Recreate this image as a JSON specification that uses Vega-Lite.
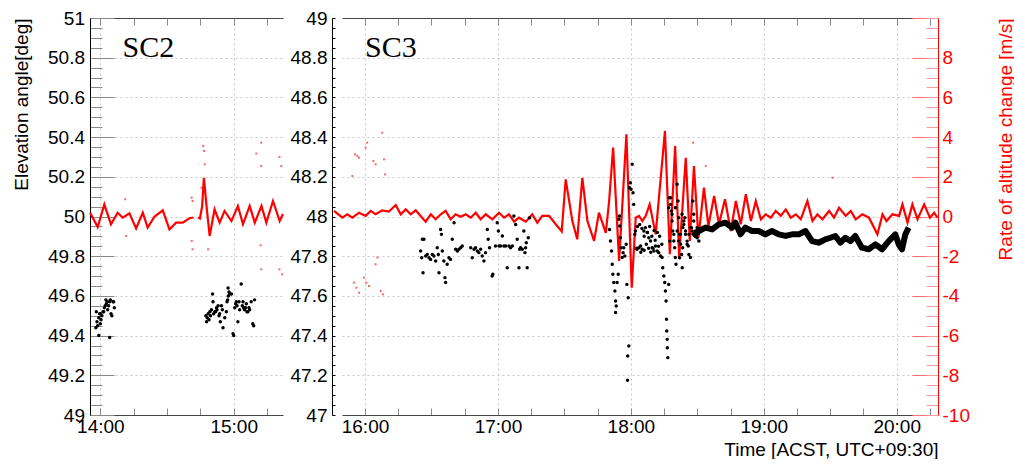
{
  "$schema": "https://vega.github.io/schema/vega-lite/v6.json",
  "background": "white",
  "padding": {"left": 12, "top": 9, "right": 0, "bottom": 0},
  "config": {
    "view": {"stroke": null},
    "font": "Liberation Sans",
    "axis": {"labelFont": "Liberation Sans", "titleFont": "Liberation Sans", "labelFontSize": 19, "titleFontSize": 19, "titleFontWeight": "normal", "labelColor": "#000", "titleColor": "#000", "labelOverlap": false, "labelFlush": false, "grid": false, "tickOpacity": 1, "tickWidth": 1, "zindex": 1}
  },
  "datasets": {
    "sc2_elev": [
      {"t":838.0,"e":49.44},{"t":838.2,"e":49.52},{"t":838.5,"e":49.47},{"t":838.8,"e":49.45},{"t":839.3,"e":49.49},{"t":839.7,"e":49.51},{"t":840.0,"e":49.46},{"t":840.3,"e":49.48},{"t":840.7,"e":49.50},{"t":841.2,"e":49.52},{"t":841.5,"e":49.52},{"t":841.8,"e":49.54},{"t":842.2,"e":49.55},{"t":842.5,"e":49.58},{"t":842.7,"e":49.56},{"t":843.0,"e":49.57},{"t":843.3,"e":49.53},{"t":843.7,"e":49.55},{"t":844.2,"e":49.57},{"t":844.5,"e":49.58},{"t":844.8,"e":49.51},{"t":845.2,"e":49.50},{"t":845.7,"e":49.57},{"t":846.0,"e":49.57},{"t":846.3,"e":49.54},{"t":839.3,"e":49.40},{"t":844.2,"e":49.39},{"t":840.0,"e":49.51},
      {"t":887.5,"e":49.50},{"t":887.8,"e":49.47},{"t":888.1,"e":49.49},{"t":888.5,"e":49.51},{"t":888.9,"e":49.48},{"t":889.3,"e":49.52},{"t":889.6,"e":49.50},{"t":890.0,"e":49.53},{"t":890.5,"e":49.61},{"t":890.7,"e":49.57},{"t":891.0,"e":49.51},{"t":891.5,"e":49.52},{"t":891.9,"e":49.52},{"t":892.3,"e":49.54},{"t":892.5,"e":49.53},{"t":893.0,"e":49.55},{"t":893.4,"e":49.50},{"t":893.7,"e":49.51},{"t":894.0,"e":49.47},{"t":894.5,"e":49.55},{"t":894.9,"e":49.53},{"t":895.2,"e":49.44},{"t":896.0,"e":49.49},{"t":896.7,"e":49.52},{"t":897.0,"e":49.57},{"t":897.3,"e":49.58},{"t":897.6,"e":49.60},{"t":897.9,"e":49.62},{"t":898.2,"e":49.61},{"t":897.5,"e":49.64},{"t":899.0,"e":49.61},{"t":899.7,"e":49.41},{"t":900.0,"e":49.40},{"t":900.5,"e":49.54},{"t":900.9,"e":49.56},{"t":901.2,"e":49.57},{"t":901.5,"e":49.55},{"t":901.9,"e":49.47},{"t":902.4,"e":49.57},{"t":902.7,"e":49.53},{"t":903.4,"e":49.66},{"t":903.9,"e":49.55},{"t":904.2,"e":49.57},{"t":904.5,"e":49.54},{"t":904.9,"e":49.53},{"t":905.4,"e":49.54},{"t":905.7,"e":49.56},{"t":906.0,"e":49.52},{"t":906.4,"e":49.52},{"t":906.9,"e":49.54},{"t":907.2,"e":49.53},{"t":907.9,"e":49.57},{"t":908.6,"e":49.46},{"t":909.0,"e":49.45},{"t":909.4,"e":49.58}
    ],
    "sc2_rate": [
      {"t":835.4,"r":0.19,"s":1},{"t":838.8,"r":-0.53,"s":1},{"t":841.8,"r":0.61,"s":1},{"t":844.8,"r":-0.39,"s":1},{"t":847.8,"r":0.19,"s":1},{"t":850.1,"r":-0.06,"s":1},{"t":853.1,"r":0.16,"s":1},{"t":856.1,"r":-0.6,"s":1},{"t":859.1,"r":0.19,"s":1},{"t":861.3,"r":-0.56,"s":1},{"t":864.4,"r":0.0,"s":1},{"t":868.1,"r":0.31,"s":1},{"t":871.1,"r":-0.65,"s":1},{"t":874.1,"r":-0.31,"s":1},{"t":877.1,"r":-0.31,"s":1},{"t":880.1,"r":-0.09,"s":1},{"t":882.0,"r":-0.05,"s":1},
      {"t":884.0,"r":-0.05,"s":2},{"t":884.8,"r":-0.1,"s":2},{"t":885.8,"r":0.5,"s":2},{"t":886.6,"r":1.95,"s":2},{"t":887.9,"r":0.4,"s":2},{"t":889.2,"r":-0.98,"s":2},{"t":891.4,"r":0.36,"s":2},{"t":893.7,"r":-0.31,"s":2},{"t":895.9,"r":0.28,"s":2},{"t":899.0,"r":-0.23,"s":2},{"t":901.9,"r":0.53,"s":2},{"t":904.2,"r":-0.39,"s":2},{"t":907.2,"r":0.53,"s":2},{"t":909.5,"r":-0.31,"s":2},{"t":912.5,"r":0.53,"s":2},{"t":914.7,"r":-0.31,"s":2},{"t":917.7,"r":0.78,"s":2},{"t":920.7,"r":-0.23,"s":2},{"t":922.2,"r":0.13,"s":2}
    ],
    "sc2_rpts": [
      {"t":886.3,"r":3.55},{"t":886.7,"r":3.3},{"t":887.0,"r":2.63},{"t":885.5,"r":1.45},{"t":888.5,"r":-1.65},{"t":881.1,"r":0.95},{"t":881.5,"r":0.78},{"t":881.1,"r":-1.23},{"t":881.5,"r":-1.65},{"t":851.2,"r":0.87},{"t":851.6,"r":-0.98},{"t":912.4,"r":3.72},{"t":910.2,"r":3.17},{"t":912.4,"r":2.54},{"t":920.6,"r":3.0},{"t":921.4,"r":2.54},{"t":912.1,"r":-1.45},{"t":912.4,"r":-2.66},{"t":920.6,"r":-2.66},{"t":921.8,"r":-2.91}
    ],
    "sc3_elev": [
      {"t":985.1,"e":47.826},{"t":985.6,"e":47.792},{"t":985.9,"e":47.885},{"t":986.6,"e":47.885},{"t":986.2,"e":47.717},{"t":987.4,"e":47.801},{"t":988.1,"e":47.809},{"t":988.9,"e":47.792},{"t":989.6,"e":47.784},{"t":990.4,"e":47.809},{"t":991.1,"e":47.801},{"t":991.9,"e":47.776},{"t":992.6,"e":47.843},{"t":993.1,"e":47.809},{"t":993.4,"e":47.717},{"t":994.1,"e":47.935},{"t":994.5,"e":47.910},{"t":994.9,"e":47.826},{"t":995.6,"e":47.776},{"t":996.1,"e":47.692},{"t":996.4,"e":47.667},{"t":997.1,"e":47.759},{"t":997.9,"e":47.792},{"t":998.6,"e":47.784},{"t":999.4,"e":47.885},{"t":1000.2,"e":47.969},{"t":1000.9,"e":47.835},{"t":1001.7,"e":47.826},{"t":1002.4,"e":47.835},{"t":1003.2,"e":47.843},{"t":1003.9,"e":47.851},{"t":1007.7,"e":47.843},{"t":1008.4,"e":47.792},{"t":1009.2,"e":47.835},{"t":1009.9,"e":47.843},{"t":1010.7,"e":47.826},{"t":1011.4,"e":47.818},{"t":1012.2,"e":47.835},{"t":1012.9,"e":47.801},{"t":1013.7,"e":47.776},{"t":1014.4,"e":47.818},{"t":1015.2,"e":47.935},{"t":1015.6,"e":47.885},{"t":1016.2,"e":47.843},{"t":1017.4,"e":47.700},{"t":1017.7,"e":47.709},{"t":1018.9,"e":47.851},{"t":1019.7,"e":47.969},{"t":1020.2,"e":47.927},{"t":1020.5,"e":47.851},{"t":1021.2,"e":47.851},{"t":1022.0,"e":47.902},{"t":1022.7,"e":47.851},{"t":1023.5,"e":47.851},{"t":1024.2,"e":47.742},{"t":1025.0,"e":47.851},{"t":1025.7,"e":47.843},{"t":1026.5,"e":47.851},{"t":1027.2,"e":48.002},{"t":1028.0,"e":47.960},{"t":1028.7,"e":47.885},{"t":1029.5,"e":47.742},{"t":1029.8,"e":47.835},{"t":1030.2,"e":47.843},{"t":1031.0,"e":47.835},{"t":1031.7,"e":47.927},{"t":1032.2,"e":47.818},{"t":1032.5,"e":47.843},{"t":1032.8,"e":47.868},{"t":1033.2,"e":47.742},{"t":1033.7,"e":47.893},{"t":1034.3,"e":47.994},
      {"t":1070.4,"e":47.935},{"t":1070.8,"e":47.877},{"t":1071.3,"e":47.826},{"t":1071.6,"e":47.759},{"t":1071.9,"e":47.709},{"t":1072.3,"e":47.667},{"t":1072.8,"e":47.625},{"t":1073.1,"e":47.574},{"t":1073.4,"e":47.549},{"t":1073.1,"e":47.516},{"t":1073.8,"e":47.667},{"t":1074.3,"e":47.709},{"t":1074.6,"e":47.986},{"t":1074.9,"e":48.003},{"t":1075.0,"e":47.952},{"t":1075.3,"e":47.893},{"t":1075.6,"e":47.843},{"t":1076.1,"e":47.793},{"t":1076.5,"e":47.818},{"t":1076.8,"e":47.843},{"t":1077.3,"e":47.801},{"t":1077.9,"e":47.860},{"t":1078.2,"e":47.658},{"t":1078.8,"e":47.591},{"t":1079.1,"e":47.348},{"t":1078.6,"e":47.297},{"t":1078.5,"e":47.175},{"t":1079.4,"e":48.145},{"t":1079.8,"e":48.170},{"t":1080.1,"e":48.137},{"t":1080.6,"e":48.263},{"t":1081.0,"e":48.120},{"t":1081.3,"e":48.061},{"t":1081.8,"e":47.910},{"t":1082.1,"e":47.927},{"t":1082.8,"e":47.835},{"t":1083.6,"e":47.843},{"t":1084.4,"e":47.851},{"t":1085.1,"e":47.835},{"t":1085.9,"e":47.927},{"t":1086.6,"e":47.944},{"t":1087.4,"e":47.919},{"t":1088.1,"e":47.893},{"t":1088.9,"e":47.877},{"t":1089.6,"e":47.843},{"t":1090.4,"e":47.826},{"t":1091.1,"e":47.851},{"t":1091.9,"e":47.826},{"t":1092.6,"e":47.818},{"t":1093.4,"e":47.801},{"t":1094.1,"e":47.793},{"t":1094.4,"e":47.742},{"t":1094.9,"e":47.700},{"t":1095.3,"e":47.667},{"t":1095.6,"e":47.625},{"t":1095.9,"e":47.574},{"t":1096.1,"e":47.482},{"t":1096.2,"e":47.423},{"t":1096.4,"e":47.381},{"t":1096.5,"e":47.339},{"t":1096.7,"e":47.289},{"t":1097.1,"e":47.658},{"t":1097.4,"e":48.095},{"t":1097.9,"e":48.061},{"t":1098.3,"e":48.028},{"t":1098.6,"e":47.977},{"t":1098.9,"e":47.927},{"t":1099.4,"e":47.877},{"t":1099.8,"e":47.843},{"t":1100.1,"e":47.793},{"t":1100.4,"e":47.759},{"t":1100.9,"e":48.162},{"t":1101.3,"e":48.078},{"t":1101.6,"e":47.994},{"t":1102.0,"e":47.910},{"t":1102.4,"e":47.860},{"t":1102.9,"e":47.809},{"t":1103.2,"e":47.742},{"t":1103.5,"e":47.944},{"t":1103.9,"e":47.977},{"t":1104.4,"e":47.994},{"t":1104.7,"e":47.910},{"t":1105.4,"e":47.860},{"t":1106.2,"e":47.809},{"t":1106.9,"e":47.793},{"t":1107.4,"e":47.944},{"t":1108.0,"e":48.078},{"t":1108.4,"e":48.011},{"t":1109.2,"e":47.927},{"t":1109.9,"e":47.893},{"t":1110.7,"e":47.877},
      {"t":1097.1,"e":48.044},{"t":1097.9,"e":48.095},{"t":1098.6,"e":48.011},{"t":1099.4,"e":47.910},{"t":1100.1,"e":48.044},{"t":1100.9,"e":47.927},{"t":1101.6,"e":47.876},{"t":1102.4,"e":47.910},{"t":1103.1,"e":48.011},{"t":1103.9,"e":47.960},{"t":1104.7,"e":47.927},{"t":1105.4,"e":47.876},{"t":1106.2,"e":47.910},{"t":1106.9,"e":47.944},{"t":1107.7,"e":47.927},{"t":1108.4,"e":47.977},{"t":1109.2,"e":47.910},{"t":1109.9,"e":47.944},{"t":1103.4,"e":47.843},{"t":1105.9,"e":47.851},{"t":1102.0,"e":47.792},{"t":1097.6,"e":47.876},
      {"t":1083.0,"e":47.95},{"t":1084.0,"e":47.96},{"t":1085.0,"e":47.94},{"t":1086.0,"e":47.90},{"t":1087.0,"e":47.86},{"t":1088.0,"e":47.84},{"t":1089.0,"e":47.82},{"t":1090.0,"e":47.84},{"t":1091.0,"e":47.88},{"t":1092.0,"e":47.92},{"t":1093.0,"e":47.90},{"t":1094.0,"e":47.86},{"t":1084.5,"e":47.82},{"t":1086.0,"e":47.83},{"t":1082.5,"e":47.84},{"t":1088.5,"e":47.95},{"t":1090.5,"e":47.93},{"t":1092.5,"e":47.85},{"t":1087.5,"e":47.92},{"t":1089.5,"e":47.90}
    ],
    "sc3_band": [
      {"t":1108.0,"e":47.90},{"t":1110.7,"e":47.927},{"t":1113.7,"e":47.944},{"t":1116.7,"e":47.935},{"t":1119.7,"e":47.960},{"t":1122.7,"e":47.969},{"t":1125.7,"e":47.944},{"t":1127.2,"e":47.969},{"t":1129.5,"e":47.910},{"t":1131.7,"e":47.944},{"t":1134.7,"e":47.927},{"t":1137.7,"e":47.927},{"t":1140.7,"e":47.910},{"t":1143.7,"e":47.927},{"t":1146.8,"e":47.910},{"t":1149.8,"e":47.902},{"t":1152.8,"e":47.910},{"t":1155.8,"e":47.910},{"t":1158.8,"e":47.927},{"t":1161.8,"e":47.876},{"t":1164.8,"e":47.868},{"t":1167.8,"e":47.885},{"t":1170.1,"e":47.893},{"t":1172.3,"e":47.902},{"t":1174.6,"e":47.868},{"t":1176.8,"e":47.893},{"t":1179.1,"e":47.876},{"t":1181.3,"e":47.902},{"t":1184.3,"e":47.843},{"t":1187.4,"e":47.835},{"t":1190.4,"e":47.860},{"t":1193.4,"e":47.835},{"t":1196.4,"e":47.876},{"t":1199.4,"e":47.910},{"t":1200.9,"e":47.860},{"t":1202.4,"e":47.835},{"t":1203.9,"e":47.910},{"t":1205.4,"e":47.944}
    ],
    "sc3_rate": [
      {"t":946.0,"r":0.28},{"t":949.8,"r":-0.06},{"t":952.0,"r":0.11},{"t":954.3,"r":-0.06},{"t":957.3,"r":0.19},{"t":960.3,"r":0.03},{"t":962.6,"r":0.28},{"t":964.8,"r":0.11},{"t":967.8,"r":0.31},{"t":970.8,"r":0.25},{"t":973.9,"r":0.58},{"t":976.1,"r":0.11},{"t":978.4,"r":0.36},{"t":980.6,"r":0.11},{"t":982.9,"r":0.31},{"t":985.1,"r":0.03},{"t":987.4,"r":-0.26},{"t":989.7,"r":0.11},{"t":991.9,"r":-0.14},{"t":994.2,"r":0.11},{"t":996.4,"r":0.28},{"t":998.7,"r":-0.14},{"t":1000.9,"r":0.11},{"t":1003.2,"r":-0.01},{"t":1005.5,"r":0.11},{"t":1007.7,"r":-0.06},{"t":1010.0,"r":0.19},{"t":1012.2,"r":-0.14},{"t":1014.5,"r":0.11},{"t":1017.5,"r":-0.14},{"t":1020.5,"r":0.19},{"t":1022.8,"r":-0.06},{"t":1025.0,"r":0.11},{"t":1027.3,"r":-0.26},{"t":1029.5,"r":-0.06},{"t":1032.6,"r":-0.26},{"t":1035.5,"r":0.11},{"t":1037.8,"r":-0.31},{"t":1040.0,"r":0.03},{"t":1043.1,"r":0.03},{"t":1046.1,"r":-0.39},{"t":1048.8,"r":-0.75},
      {"t":1050.6,"r":1.87},{"t":1053.6,"r":-0.23},{"t":1055.8,"r":-1.15},{"t":1058.1,"r":1.95},{"t":1060.4,"r":-0.23},{"t":1063.4,"r":-1.23},{"t":1065.6,"r":0.19},{"t":1068.7,"r":-0.82},{"t":1070.2,"r":0.78},{"t":1072.0,"r":3.47},{"t":1074.7,"r":-2.24},{"t":1078.0,"r":4.14},{"t":1080.4,"r":-3.59},{"t":1082.2,"r":-0.06},{"t":1083.7,"r":0.03},{"t":1085.2,"r":-0.23},{"t":1086.7,"r":0.03},{"t":1088.5,"r":0.61},{"t":1091.2,"r":-0.90},{"t":1095.4,"r":4.31},{"t":1097.6,"r":-1.90},{"t":1100.0,"r":3.55},{"t":1101.8,"r":-2.07},{"t":1104.8,"r":2.96},{"t":1106.6,"r":-1.23},{"t":1108.5,"r":2.54},{"t":1110.5,"r":-1.07},{"t":1113.0,"r":1.45},{"t":1115.0,"r":-0.48},{"t":1117.6,"r":1.03},{"t":1119.8,"r":-0.39},{"t":1122.5,"r":0.87},{"t":1125.1,"r":-0.73},{"t":1127.4,"r":0.78},
      {"t":1129.6,"r":-0.39},{"t":1131.9,"r":1.12},{"t":1134.2,"r":-0.23},{"t":1136.4,"r":0.78},{"t":1138.7,"r":-0.14},{"t":1140.9,"r":0.11},{"t":1143.2,"r":-0.06},{"t":1145.4,"r":0.28},{"t":1147.7,"r":0.03},{"t":1149.9,"r":0.36},{"t":1152.2,"r":-0.06},{"t":1154.5,"r":0.11},{"t":1156.7,"r":-0.14},{"t":1159.7,"r":0.78},{"t":1162.0,"r":-0.23},{"t":1164.2,"r":0.11},{"t":1166.5,"r":-0.14},{"t":1169.5,"r":0.28},{"t":1171.7,"r":-0.06},{"t":1174.0,"r":0.44},{"t":1177.0,"r":0.03},{"t":1179.3,"r":0.28},{"t":1181.5,"r":-0.14},{"t":1184.5,"r":0.11},{"t":1187.5,"r":-0.06},{"t":1191.3,"r":-0.90},{"t":1193.6,"r":0.11},{"t":1195.4,"r":-0.23},{"t":1198.1,"r":0.11},{"t":1201.1,"r":0.03},{"t":1202.6,"r":0.61},{"t":1204.9,"r":-0.31},{"t":1207.1,"r":0.61},{"t":1209.4,"r":-0.14},{"t":1212.4,"r":0.61},{"t":1215.0,"r":-0.06},{"t":1216.9,"r":0.19},{"t":1218.4,"r":-0.06}
    ],
    "sc3_rpts": [
      {"t":955.5,"r":3.13},{"t":956.5,"r":3.05},{"t":957.3,"r":2.96},{"t":960.3,"r":3.47},{"t":961.0,"r":3.72},{"t":963.8,"r":2.80},{"t":964.8,"r":2.63},{"t":967.8,"r":4.22},{"t":968.6,"r":2.88},{"t":969.0,"r":2.12},{"t":955.0,"r":-3.33},{"t":956.1,"r":-3.59},{"t":957.3,"r":-3.84},{"t":959.5,"r":-3.08},{"t":960.6,"r":-3.33},{"t":961.8,"r":-3.50},{"t":964.8,"r":-2.41},{"t":965.6,"r":-2.07},{"t":967.1,"r":-3.75},{"t":968.1,"r":-3.92},{"t":954.3,"r":2.04},{"t":1108.1,"r":3.72},{"t":1113.8,"r":2.54},{"t":1171.0,"r":1.95}
    ]
  },
  "hconcat": [
    {
      "width": 193,
      "height": 397,
      "resolve": {"scale": {"y": "independent"}, "axis": {"x": "independent", "y": "independent"}},
      "layer": [
        {
          "data": {"name": "sc2_elev"},
          "mark": {"type": "point", "opacity": 0},
          "encoding": {
            "x": {"field": "t", "type": "quantitative", "scale": {"domain": [835.35, 922.2], "nice": false, "zero": false},
              "axis": {"orient": "bottom", "values": [840, 900], "grid": true, "gridColor": "#c8c8c8", "gridDash": [2, 3], "ticks": false, "labels": false, "domain": false, "title": null, "zindex": 0}},
            "y": {"field": "e", "type": "quantitative", "scale": {"domain": [49, 51], "nice": false, "zero": false},
              "axis": {"orient": "left", "values": [49.2, 49.4, 49.6, 49.8, 50, 50.2, 50.4, 50.6, 50.8], "grid": true, "gridColor": "#c8c8c8", "gridDash": [2, 3], "ticks": false, "labels": false, "domain": false, "title": null, "zindex": 0}}
          }
        },
        {
          "data": {"name": "sc2_elev"},
          "mark": {"type": "point", "opacity": 0},
          "encoding": {
            "x": {"field": "t", "type": "quantitative", "scale": {"domain": [835.35, 922.2], "nice": false, "zero": false},
              "axis": {"orient": "top", "ticks": false, "labels": false, "domain": true, "domainColor": "#444", "title": null}},
            "y": {"field": "e", "type": "quantitative", "scale": {"domain": [49, 51], "nice": false, "zero": false},
              "axis": {"orient": "left", "offset": -24, "ticks": true, "tickSize": 24, "tickColor": "#888", "values": [49, 49.2, 49.4, 49.6, 49.8, 50, 50.2, 50.4, 50.6, 50.8, 51], "labels": false, "domain": false, "title": null}}
          }
        },
        {
          "data": {"name": "sc2_elev"},
          "mark": {"type": "point", "opacity": 0},
          "encoding": {
            "x": {"field": "t", "type": "quantitative", "scale": {"domain": [835.35, 922.2], "nice": false, "zero": false},
              "axis": {"orient": "top", "offset": -7, "ticks": true, "tickSize": 7, "tickColor": "#888", "values": [840, 855, 870, 885, 900, 915], "labels": false, "domain": false, "title": null}},
            "y": {"field": "e", "type": "quantitative", "scale": {"domain": [49, 51], "nice": false, "zero": false},
              "axis": {"orient": "left", "offset": -12, "ticks": true, "tickSize": 12, "tickColor": "#888", "values": [49, 49.05, 49.1, 49.15, 49.2, 49.25, 49.3, 49.35, 49.4, 49.45, 49.5, 49.55, 49.6, 49.65, 49.7, 49.75, 49.8, 49.85, 49.9, 49.95, 50, 50.05, 50.1, 50.15, 50.2, 50.25, 50.3, 50.35, 50.4, 50.45, 50.5, 50.55, 50.6, 50.65, 50.7, 50.75, 50.8, 50.85, 50.9, 50.95, 51], "labels": false, "domain": false, "title": null}}
          }
        },
        {
          "data": {"name": "sc2_elev"},
          "mark": {"type": "point", "opacity": 0},
          "encoding": {
            "x": {"field": "t", "type": "quantitative", "scale": {"domain": [835.35, 922.2], "nice": false, "zero": false},
              "axis": {"orient": "bottom", "offset": -7, "ticks": true, "tickSize": 7, "tickColor": "#888", "values": [840, 855, 870, 885, 900, 915], "labels": false, "domain": false, "title": null}},
            "y": {"field": "e", "type": "quantitative", "scale": {"domain": [49, 51], "nice": false, "zero": false}, "axis": null}
          }
        },
        {
          "data": {"name": "sc2_rate"},
          "mark": {"type": "line", "color": "#ff0000", "strokeWidth": 2.2},
          "encoding": {
            "x": {"field": "t", "type": "quantitative", "scale": {"domain": [835.35, 922.2], "nice": false, "zero": false}, "axis": null},
            "y": {"field": "r", "type": "quantitative", "scale": {"domain": [-10, 10], "nice": false, "zero": false}, "axis": null},
            "detail": {"field": "s", "type": "nominal"}
          }
        },
        {
          "data": {"name": "sc2_rpts"},
          "mark": {"type": "square", "size": 4, "color": "#ff0000", "opacity": 0.6},
          "encoding": {
            "x": {"field": "t", "type": "quantitative", "scale": {"domain": [835.35, 922.2], "nice": false, "zero": false}, "axis": null},
            "y": {"field": "r", "type": "quantitative", "scale": {"domain": [-10, 10], "nice": false, "zero": false}, "axis": null}
          }
        },
        {
          "data": {"name": "sc2_elev"},
          "mark": {"type": "circle", "size": 12, "color": "#000", "opacity": 1},
          "encoding": {
            "x": {"field": "t", "type": "quantitative", "scale": {"domain": [835.35, 922.2], "nice": false, "zero": false},
              "axis": {"orient": "bottom", "values": [840, 900], "ticks": false, "labelPadding": 2, "labelExpr": "floor(datum.value / 60) + ':00'", "domainColor": "#444", "title": null}},
            "y": {"field": "e", "type": "quantitative", "scale": {"domain": [49, 51], "nice": false, "zero": false},
              "axis": {"orient": "left", "values": [49, 49.2, 49.4, 49.6, 49.8, 50, 50.2, 50.4, 50.6, 50.8, 51], "format": "~g", "ticks": false, "labelPadding": 5.5, "domainColor": "#000", "title": "Elevation angle[deg]", "titleAnchor": "end", "titlePadding": 16}}
          }
        },
        {
          "data": {"values": [{"name": "SC2", "t": 850.0, "e": 50.806}]},
          "mark": {"type": "text", "font": "Liberation Serif", "fontSize": 30, "align": "left", "baseline": "alphabetic", "color": "#000"},
          "encoding": {
            "x": {"field": "t", "type": "quantitative", "scale": {"domain": [835.35, 922.2], "nice": false, "zero": false}, "axis": null},
            "y": {"field": "e", "type": "quantitative", "scale": {"domain": [49, 51], "nice": false, "zero": false}, "axis": null},
            "text": {"field": "name"}
          }
        }
      ]
    },
    {
      "width": 596,
      "height": 397,
      "resolve": {"scale": {"y": "independent"}, "axis": {"x": "independent", "y": "independent"}},
      "layer": [
        {
          "data": {"name": "sc3_elev"},
          "mark": {"type": "point", "opacity": 0},
          "encoding": {
            "x": {"field": "t", "type": "quantitative", "scale": {"domain": [949.62, 1218.65], "nice": false, "zero": false},
              "axis": {"orient": "bottom", "values": [960, 1020, 1080, 1140, 1200], "grid": true, "gridColor": "#c8c8c8", "gridDash": [2, 3], "ticks": false, "labels": false, "domain": false, "title": null, "zindex": 0}},
            "y": {"field": "e", "type": "quantitative", "scale": {"domain": [47, 49], "nice": false, "zero": false},
              "axis": {"orient": "left", "values": [47.2, 47.4, 47.6, 47.8, 48, 48.2, 48.4, 48.6, 48.8], "grid": true, "gridColor": "#c8c8c8", "gridDash": [2, 3], "ticks": false, "labels": false, "domain": false, "title": null, "zindex": 0}}
          }
        },
        {
          "data": {"name": "sc3_elev"},
          "mark": {"type": "point", "opacity": 0},
          "encoding": {
            "x": {"field": "t", "type": "quantitative", "scale": {"domain": [949.62, 1218.65], "nice": false, "zero": false},
              "axis": {"orient": "top", "ticks": false, "labels": false, "domain": true, "domainColor": "#444", "title": null}},
            "y": {"field": "e", "type": "quantitative", "scale": {"domain": [47, 49], "nice": false, "zero": false},
              "axis": {"orient": "left", "offset": 7, "ticks": true, "tickSize": 3, "tickColor": "#000", "values": [47, 47.05, 47.1, 47.15, 47.2, 47.25, 47.3, 47.35, 47.4, 47.45, 47.5, 47.55, 47.6, 47.65, 47.7, 47.75, 47.8, 47.85, 47.9, 47.95, 48, 48.05, 48.1, 48.15, 48.2, 48.25, 48.3, 48.35, 48.4, 48.45, 48.5, 48.55, 48.6, 48.65, 48.7, 48.75, 48.8, 48.85, 48.9, 48.95, 49], "labels": false, "domain": false, "title": null}}
          }
        },
        {
          "data": {"name": "sc3_elev"},
          "mark": {"type": "point", "opacity": 0},
          "encoding": {
            "x": {"field": "t", "type": "quantitative", "scale": {"domain": [949.62, 1218.65], "nice": false, "zero": false},
              "axis": {"orient": "top", "offset": -7, "ticks": true, "tickSize": 7, "tickColor": "#888", "values": [960, 975, 990, 1005, 1020, 1035, 1050, 1065, 1080, 1095, 1110, 1125, 1140, 1155, 1170, 1185, 1200, 1215], "labels": false, "domain": false, "title": null}},
            "y": {"field": "e", "type": "quantitative", "scale": {"domain": [47, 49], "nice": false, "zero": false}, "axis": null}
          }
        },
        {
          "data": {"name": "sc3_elev"},
          "mark": {"type": "point", "opacity": 0},
          "encoding": {
            "x": {"field": "t", "type": "quantitative", "scale": {"domain": [949.62, 1218.65], "nice": false, "zero": false},
              "axis": {"orient": "bottom", "offset": -7, "ticks": true, "tickSize": 7, "tickColor": "#888", "values": [960, 975, 990, 1005, 1020, 1035, 1050, 1065, 1080, 1095, 1110, 1125, 1140, 1155, 1170, 1185, 1200, 1215], "labels": false, "domain": false, "title": null}},
            "y": {"field": "e", "type": "quantitative", "scale": {"domain": [47, 49], "nice": false, "zero": false}, "axis": null}
          }
        },
        {
          "data": {"name": "sc3_rate"},
          "mark": {"type": "point", "opacity": 0},
          "encoding": {
            "x": {"field": "t", "type": "quantitative", "scale": {"domain": [949.62, 1218.65], "nice": false, "zero": false}, "axis": null},
            "y": {"field": "r", "type": "quantitative", "scale": {"domain": [-10, 10], "nice": false, "zero": false},
              "axis": {"orient": "right", "offset": -26, "ticks": true, "tickSize": 26, "tickColor": "#ff6b6b", "values": [-10, -8, -6, -4, -2, 0, 2, 4, 6, 8, 10], "labels": false, "domain": false, "title": null}}
          }
        },
        {
          "data": {"name": "sc3_rate"},
          "mark": {"type": "point", "opacity": 0},
          "encoding": {
            "x": {"field": "t", "type": "quantitative", "scale": {"domain": [949.62, 1218.65], "nice": false, "zero": false}, "axis": null},
            "y": {"field": "r", "type": "quantitative", "scale": {"domain": [-10, 10], "nice": false, "zero": false},
              "axis": {"orient": "right", "offset": -12, "ticks": true, "tickSize": 12, "tickColor": "#ff9b9b", "values": [-10, -9.5, -9, -8.5, -8, -7.5, -7, -6.5, -6, -5.5, -5, -4.5, -4, -3.5, -3, -2.5, -2, -1.5, -1, -0.5, 0, 0.5, 1, 1.5, 2, 2.5, 3, 3.5, 4, 4.5, 5, 5.5, 6, 6.5, 7, 7.5, 8, 8.5, 9, 9.5, 10], "labels": false, "domain": false, "title": null}}
          }
        },
        {
          "data": {"name": "sc3_rate"},
          "mark": {"type": "line", "color": "#ff0000", "strokeWidth": 2.2},
          "encoding": {
            "x": {"field": "t", "type": "quantitative", "scale": {"domain": [949.62, 1218.65], "nice": false, "zero": false}, "axis": null},
            "y": {"field": "r", "type": "quantitative", "scale": {"domain": [-10, 10], "nice": false, "zero": false},
              "axis": {"orient": "right", "values": [-10, -8, -6, -4, -2, 0, 2, 4, 6, 8], "ticks": false, "domainColor": "#ff0000", "labelColor": "#ff0000", "labelPadding": 4, "labelExpr": "'' + datum.value", "title": "Rate of altitude change [m/s]", "titleColor": "#ff0000", "titleAngle": 270, "titleAnchor": "end", "titlePadding": 46}}
          }
        },
        {
          "data": {"name": "sc3_rpts"},
          "mark": {"type": "square", "size": 4, "color": "#ff0000", "opacity": 0.6},
          "encoding": {
            "x": {"field": "t", "type": "quantitative", "scale": {"domain": [949.62, 1218.65], "nice": false, "zero": false}, "axis": null},
            "y": {"field": "r", "type": "quantitative", "scale": {"domain": [-10, 10], "nice": false, "zero": false}, "axis": null}
          }
        },
        {
          "data": {"name": "sc3_band"},
          "mark": {"type": "line", "color": "#000", "strokeWidth": 6, "strokeJoin": "round"},
          "encoding": {
            "x": {"field": "t", "type": "quantitative", "scale": {"domain": [949.62, 1218.65], "nice": false, "zero": false}, "axis": null},
            "y": {"field": "e", "type": "quantitative", "scale": {"domain": [47, 49], "nice": false, "zero": false}, "axis": null}
          }
        },
        {
          "data": {"name": "sc3_elev"},
          "mark": {"type": "circle", "size": 12, "color": "#000", "opacity": 1},
          "encoding": {
            "x": {"field": "t", "type": "quantitative", "scale": {"domain": [949.62, 1218.65], "nice": false, "zero": false},
              "axis": {"orient": "bottom", "values": [960, 1020, 1080, 1140, 1200], "ticks": false, "labelPadding": 2, "labelExpr": "floor(datum.value / 60) + ':00'", "domainColor": "#444", "title": "Time [ACST, UTC+09:30]", "titleAnchor": "end", "titlePadding": 4}},
            "y": {"field": "e", "type": "quantitative", "scale": {"domain": [47, 49], "nice": false, "zero": false},
              "axis": {"orient": "left", "offset": 10, "values": [47, 47.2, 47.4, 47.6, 47.8, 48, 48.2, 48.4, 48.6, 48.8, 49], "format": "~g", "ticks": false, "labelPadding": 5, "domainColor": "#000", "title": null}}
          }
        },
        {
          "data": {"values": [{"name": "SC3", "t": 960.0, "e": 48.806}]},
          "mark": {"type": "text", "font": "Liberation Serif", "fontSize": 30, "align": "left", "baseline": "alphabetic", "color": "#000"},
          "encoding": {
            "x": {"field": "t", "type": "quantitative", "scale": {"domain": [949.62, 1218.65], "nice": false, "zero": false}, "axis": null},
            "y": {"field": "e", "type": "quantitative", "scale": {"domain": [47, 49], "nice": false, "zero": false}, "axis": null},
            "text": {"field": "name"}
          }
        }
      ]
    }
  ],
  "spacing": 2
}
